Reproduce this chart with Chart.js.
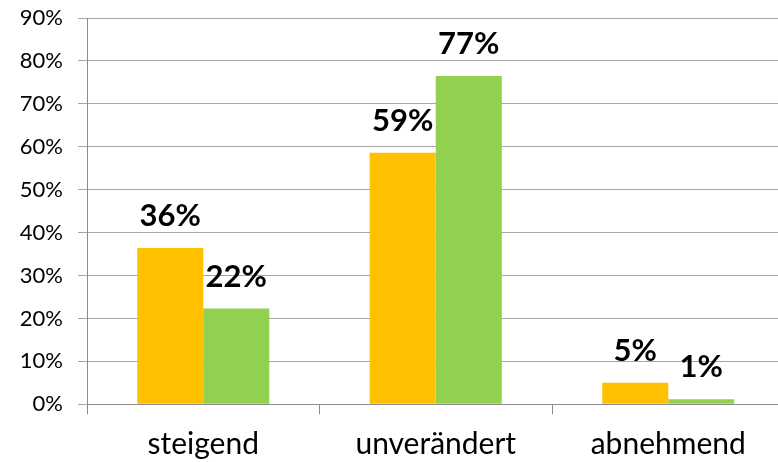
<!DOCTYPE html>
<html>
<head>
<meta charset="utf-8">
<script src="https://cdn.jsdelivr.net/npm/chart.js@4/dist/chart.umd.min.js"></script>
<style>
  html, body { margin: 0; padding: 0; background: #fff; overflow: hidden; width: 778px; height: 462px; }
  #wrap { width: 800px; height: 462px; }
</style>
</head>
<body>
<div id="wrap"><canvas id="c" width="800" height="462"></canvas></div>
<script>
const categories = ['steigend', 'unverändert', 'abnehmend'];
const seriesA = [36.4, 58.6, 5.0];
const seriesB = [22.3, 76.5, 1.2];
const labelsA = ['36%', '59%', '5%'];
const labelsB = ['22%', '77%', '1%'];
const yTicks = [0, 10, 20, 30, 40, 50, 60, 70, 80, 90];

const valueLabels = {
  id: 'valueLabels',
  afterDatasetsDraw(chart) {
    const ctx = chart.ctx;
    const sets = [labelsA, labelsB];
    ctx.save();
    ctx.font = 'bold 31px Lato';
    ctx.fillStyle = '#000';
    ctx.textAlign = 'center';
    ctx.textBaseline = 'alphabetic';
    chart.data.datasets.forEach((ds, di) => {
      const meta = chart.getDatasetMeta(di);
      meta.data.forEach((bar, i) => {
        ctx.fillText(sets[di][i], bar.x, bar.y - 22);
      });
    });
    ctx.restore();
  }
};

new Chart(document.getElementById('c'), {
  type: 'bar',
  data: {
    labels: categories,
    datasets: [
      { label: 'Reihe 1', data: seriesA, backgroundColor: '#FFC000', borderWidth: 0 },
      { label: 'Reihe 2', data: seriesB, backgroundColor: '#92D050', borderWidth: 0 }
    ]
  },
  options: {
    responsive: false,
    animation: false,
    devicePixelRatio: 1,
    categoryPercentage: 0.568,
    barPercentage: 1.0,
    layout: { padding: { top: 18, right: 15.5, bottom: 0, left: 0 } },
    plugins: { legend: { display: false }, tooltip: { enabled: false } },
    scales: {
      x: {
        grid: { display: true, drawOnChartArea: false, drawTicks: true, tickLength: 10, color: '#8C8C8C', offset: true },
        border: { display: true, color: '#8C8C8C', width: 1 },
        ticks: { color: '#000', font: { family: 'Lato', size: 30 }, padding: 12, maxRotation: 0 },
        afterFit(scale) { scale.height = 57.7; scale.paddingLeft = 0; scale.paddingRight = 0; }
      },
      y: {
        min: 0, max: 90,
        afterBuildTicks(scale) { scale.ticks = yTicks.map(v => ({ value: v })); },
        grid: { color: '#A6A6A6', tickLength: 9, drawTicks: true },
        border: { display: true, color: '#8C8C8C', width: 1 },
        ticks: { color: '#000', font: { family: 'Lato', size: 22 }, padding: 15, callback: v => v + '%' },
        afterFit(scale) { scale.width = 87; scale.paddingTop = 0; scale.paddingBottom = 0; }
      }
    }
  },
  plugins: [valueLabels]
});
</script>
</body>
</html>
